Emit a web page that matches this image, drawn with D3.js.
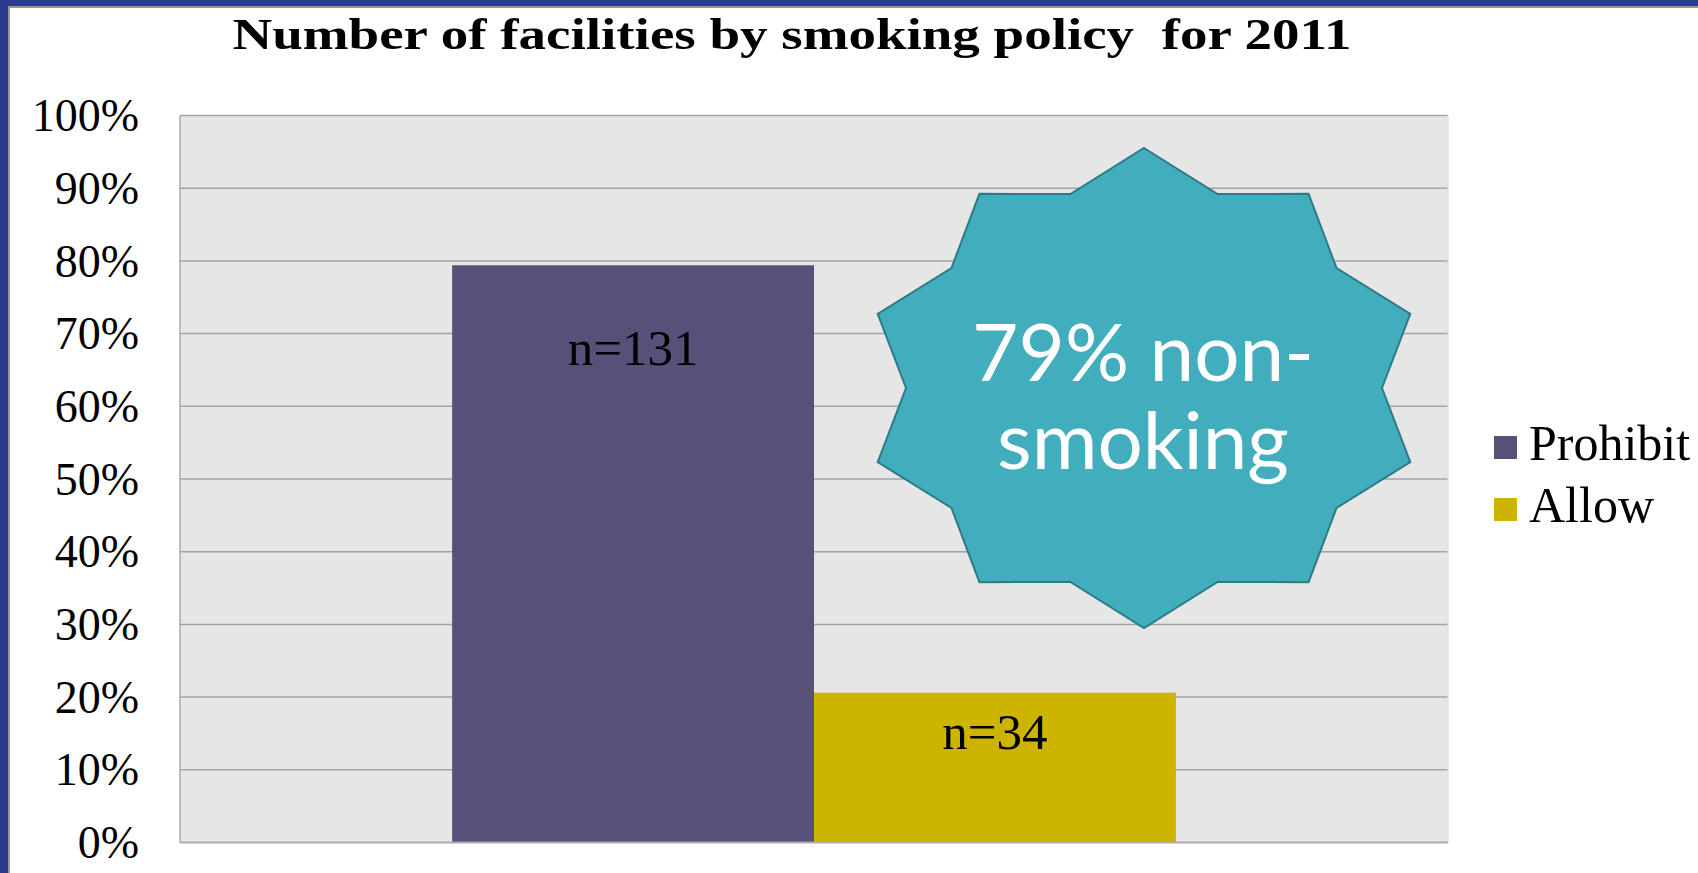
<!DOCTYPE html>
<html>
<head>
<meta charset="utf-8">
<script src="https://cdn.jsdelivr.net/npm/d3@7/dist/d3.min.js"></script>
<style>
  html, body { margin: 0; padding: 0; background: #fff; }
  svg { display: block; }
  text { white-space: pre; }
</style>
</head>
<body>
<svg id="chart" width="1698" height="873"></svg>
<script>
// ---- data ----
const title = "Number of facilities by smoking policy  for 2011";
const categories = ["2011"];
const seriesNames = ["Prohibit", "Allow"];
const seriesValues = [79.4, 20.6];          // percent of facilities
const seriesCounts = ["n=131", "n=34"];
const seriesColors = ["#575179", "#CCB400"];
const tickValues = [0, 10, 20, 30, 40, 50, 60, 70, 80, 90, 100];
const tickLabels = ["0%", "10%", "20%", "30%", "40%", "50%", "60%", "70%", "80%", "90%", "100%"];
const calloutLines = ["79% non-", "smoking"];

// ---- layout ----
const W = 1698, H = 873;
const plot = { left: 180, right: 1448, top: 115.5, bottom: 842.5 };
const serif = "'Liberation Serif', 'DejaVu Serif', serif";

const svg = d3.select("#chart");

// frame
svg.append("rect").attr("x", 0).attr("y", 0).attr("width", W).attr("height", H).attr("fill", "#fff");
svg.append("rect").attr("x", 0).attr("y", 0).attr("width", W).attr("height", 6).attr("fill", "#2B3B8D");
svg.append("rect").attr("x", 0).attr("y", 0).attr("width", 8).attr("height", H).attr("fill", "#2B3B8D");
svg.append("rect").attr("x", 8).attr("y", 6).attr("width", W - 8).attr("height", 2).attr("fill", "#9A9A9A");
svg.append("rect").attr("x", 8).attr("y", 6).attr("width", 2).attr("height", H - 6).attr("fill", "#9A9A9A");

// scales
const y = d3.scaleLinear().domain([0, 100]).range([plot.bottom, plot.top]);
const x0 = d3.scaleBand().domain(categories).range([plot.left, plot.right])
  .paddingInner(0).paddingOuter(0.376);
const x1 = d3.scaleBand().domain(seriesNames).range([0, x0.bandwidth()]).padding(0);

// plot area
svg.append("rect")
  .attr("x", plot.left).attr("y", plot.top)
  .attr("width", plot.right - plot.left).attr("height", plot.bottom - plot.top)
  .attr("fill", "#E6E6E6");

// gridlines
svg.append("g")
  .selectAll("line").data(tickValues.filter(d => d > 0)).join("line")
  .attr("x1", plot.left).attr("x2", plot.right)
  .attr("y1", d => y(d)).attr("y2", d => y(d))
  .attr("stroke", "#A3A3A3").attr("stroke-width", 1.5);

// plot border
svg.append("line").attr("x1", plot.left).attr("x2", plot.left).attr("y1", plot.top).attr("y2", plot.bottom)
  .attr("stroke", "#ABABAB").attr("stroke-width", 1.5);
svg.append("line").attr("x1", plot.right).attr("x2", plot.right).attr("y1", plot.top).attr("y2", plot.bottom)
  .attr("stroke", "#E0E0E0").attr("stroke-width", 1.5);

// y axis
const yAxis = d3.axisLeft(y).tickValues(tickValues)
  .tickFormat((d, i) => tickLabels[i]).tickSize(0).tickPadding(0);
const gy = svg.append("g").attr("transform", `translate(139,0)`).call(yAxis);
gy.select(".domain").remove();
gy.selectAll("text")
  .attr("font-family", serif).attr("font-size", 46).attr("fill", "#000")
  .attr("dy", "0.33em");

// bars
const data = seriesNames.map((s, i) => ({ cat: categories[0], s, v: seriesValues[i], c: seriesColors[i], n: seriesCounts[i] }));
const gBars = svg.append("g");
gBars.selectAll("rect").data(data).join("rect")
  .attr("x", d => x0(d.cat) + x1(d.s))
  .attr("y", d => y(d.v))
  .attr("width", x1.bandwidth())
  .attr("height", d => y(0) - y(d.v))
  .attr("fill", d => d.c);

// bottom axis line
svg.append("line").attr("x1", plot.left).attr("x2", plot.right).attr("y1", plot.bottom).attr("y2", plot.bottom)
  .attr("stroke", "#ABABAB").attr("stroke-width", 2);

// count labels
const labelOffsets = [100, 56];
gBars.selectAll("text").data(data).join("text")
  .attr("x", d => x0(d.cat) + x1(d.s) + x1.bandwidth() / 2)
  .attr("y", (d, i) => y(d.v) + labelOffsets[i])
  .attr("text-anchor", "middle")
  .attr("font-family", serif).attr("font-size", 51).attr("fill", "#000")
  .text(d => d.n);

// title
svg.append("text")
  .attr("x", 792).attr("y", 49)
  .attr("text-anchor", "middle")
  .attr("font-family", serif).attr("font-weight", "bold").attr("font-size", 44)
  .attr("textLength", 1119).attr("lengthAdjust", "spacingAndGlyphs")
  .attr("fill", "#000")
  .text(title);

// legend
const lg = svg.append("g");
seriesNames.forEach((s, i) => {
  const ly = 436 + i * 62;
  lg.append("rect").attr("x", 1494).attr("y", ly).attr("width", 23).attr("height", 23).attr("fill", seriesColors[i]);
  lg.append("text").attr("x", 1529).attr("y", ly + 24)
    .attr("font-family", serif).attr("font-size", 50).attr("fill", "#000").text(s);
});

// callout star (10-point seal)
const cx = 1144, cy = 388, Rx = 280, Ry = 240, ratio = 0.85;
const pts = [];
for (let k = 0; k < 20; k++) {
  const a = k * Math.PI / 10;
  const f = k % 2 === 0 ? 1 : ratio;
  pts.push([cx + Rx * f * Math.sin(a), cy - Ry * f * Math.cos(a)]);
}
svg.append("path")
  .attr("d", d3.line()(pts) + "Z")
  .attr("fill", "#42AEBD").attr("stroke", "#2C7C88").attr("stroke-width", 2);

const st = svg.append("text")
  .attr("text-anchor", "middle")
  .attr("font-family", "Lato, 'Open Sans', sans-serif").attr("font-size", 80).attr("fill", "#fff");
calloutLines.forEach((t, i) => {
  st.append("tspan").attr("x", 1143).attr("y", 381 + i * 88).text(t);
});
</script>
</body>
</html>
